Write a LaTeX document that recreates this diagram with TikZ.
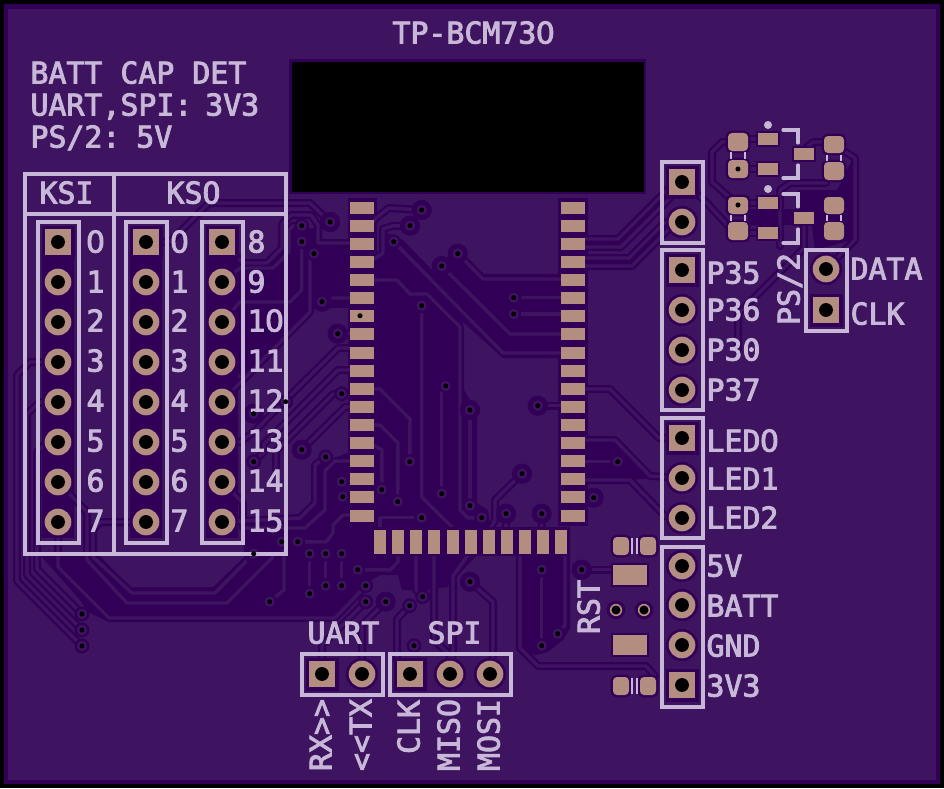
\documentclass[tikz,border=0pt]{standalone}
\usepackage{fontspec}
\newfontfamily\silkf[FakeBold=3]{DejaVu Sans Mono}
\newfontfamily\silkz[FakeBold=3]{DejaVu Sans}
\newcommand\zr{\makebox[13.5pt][c]{\silkz 0}}
\definecolor{pcblight}{HTML}{3E1460}
\definecolor{pcbdark}{HTML}{310056}
\definecolor{padc}{HTML}{B28D80}
\definecolor{silk}{HTML}{C8B8D8}
\tikzset{
 silkline/.style={draw=silk,line width=2.35pt,line cap=round,line join=miter},
 silktext/.style={font=\silkf\fontsize{22.4}{27}\selectfont,text=silk,inner sep=0pt,outer sep=0pt},
 smtpad/.style={fill=padc,preaction={draw=pcbdark,line width=3pt}},
 roundpad/.style={fill=padc,rounded corners=3pt,preaction={draw=pcbdark,line width=3.6pt}},
 tr/.style={}
}
\newcounter{lb}
\newcommand\slab[3]{\stepcounter{lb}\node[silktext,anchor=base west] (t\arabic{lb}) at (#1-0.5,{#2+10.5}) {#3};}
\newcommand\vlab[3]{\stepcounter{lb}\node[silktext,anchor=base east,rotate=90] (t\arabic{lb}) at ({#1+10.5},#2) {#3};}
\newcommand\spad[2]{\fill[pcbdark] ({#1-16.5},{#2-16.5}) rectangle ({#1+16.5},{#2+16.5});\fill[padc] ({#1-13},{#2-13}) rectangle ({#1+13},{#2+13});}
\newcommand\rpad[2]{\fill[pcbdark] (#1,#2) circle[radius=12pt];\fill[padc] (#1,#2) circle[radius=10pt];}
\newcommand\hole[2]{\fill[black] (#1,#2) circle[radius=5.2pt];}
\newcommand\viasmall{301.7/225.7,301.7/241.7,314/253.7,513.7/297.7,513.7/314,421.7/305.7,445.7/386,285.7/401.7,341.7/393.7,253.7/461.7,325.7/457,341.7/481.7,342.7/496.7,381.7/489.7,397.7/501.7,409.7/461.7,421.7/517.7,281.7/541.7,297.7/541.7,309.7/553.7,325.7/553.7,341.7/553.7,357.7/569.7,309.7/593.7,325.7/585.7,341.7/585.7,365.7/585.7,365.7/601.7,269.7/601.7,422.7/596.7,409.7/605.7,470/505.7,481.7/517.7,441.7/493.7,617.7/461.7,541.7/569.7,541.7/645.7,557.7/633.7,414/645.7,82/614,82/630,82/646,393.7/241.7}
\newcommand\viabig{330/222,421.7/210,410/225.7,457.7/253.7,441.7/266,337.7/333.7,322/301.7,537.7/405.7,522/473.7,593.7/497.7,506/513.7,541.7/513.7,470/410,581.7/569.7,385.7/601.7,470/581.7,253.7/413.7,301.7/449.7,253.7/553.7}
\newcommand\tracelist{
 % right side
 \draw[tr] (585,239)--(618,239)--(682,175);
 \draw[tr] (585,247)--(621,247)--(682,186);
 \draw[tr] (585,258)--(629,258)--(665,222)--(682,222);
 \draw[tr] (585,266)--(632,266)--(682,216);
 \draw[tr] (585,389)--(610,389)--(659,438)--(682,438);
 \draw[tr] (585,440)--(615,440)--(650,476)--(682,478);
 \draw[tr] (585,480)--(630,480)--(665,516)--(682,518);
 \draw[tr] (585,461.7)--(617.7,461.7);
 \draw[tr] (585,497.7)--(593.7,497.7);
 % centre
 \draw[tr] (457.7,253.7)--(483,279)--(561,279);
 \draw[tr] (441.7,266)--(510,334)--(561,334);
 \draw[tr] (393.7,241.7)--(503,353)--(561,353);
 \draw[tr] (513.7,297.7)--(561,297.7);
 \draw[tr] (513.7,314)--(561,314);
 \draw[tr] (537.7,405.7)--(561,405.7);
 \draw[tr] (370,280)--(397,280)--(410,294)--(427,294)--(460,327)--(460,510)--(468,518)--(481.7,517.7);
 \draw[tr] (421.7,305.7)--(421.7,497)--(453,528);
 \draw[tr] (441.7,386)--(441.7,493.7);
 \draw[tr] (470,410)--(470,505.7);
 \draw[tr] (370,226)--(376,218)--(389,208)--(421.7,210);
 \draw[tr] (370,262)--(383,253)--(383,229)--(392,226)--(410,225.7);
 \draw[tr] (322,301.7)--(328,298)--(350,298);
 \draw[tr] (337.7,333.7)--(350,333.7);
 % left upper
 \draw[tr] (146,242)--(170,242)--(183,229)--(209,203)--(310,203)--(330,222);
 \draw[tr] (222,242)--(243,263)--(267,263)--(282,248)--(282,224)--(291,215)--(311,215)--(318,225)--(318,243)--(350,243);
 \draw[tr] (301.7,225.7)--(293,226)--(289,230)--(289,252)--(273,268)--(240,268)--(222,282);
 \draw[tr] (301.7,241.7)--(301.7,290)--(290,302)--(240,302)--(222,322);
 \draw[tr] (314,253.7)--(310,258)--(310,312)--(243,380)--(222,401);
 % left pads to the four-lane bus
 \draw[tr] (350,348)--(338,348)--(253.7,432)--(240,442)--(222,442);
 \draw[tr] (350,370)--(338,370)--(264,444)--(264,452)--(253.7,461.7);
 \draw[tr] (341.7,393.7)--(333,394)--(276,451)--(276,470);
 \draw[tr] (350,407)--(345,407)--(301.7,449.7);
 \draw[tr] (325.7,457)--(315,465)--(315,503)--(300,518)--(222,522);
 \draw[tr] (350,461)--(335,461)--(325,471)--(325,510)--(305,528)--(243,528)--(243,503)--(222,482);
 \draw[tr] (341.7,481.7)--(350,481.7);
 \draw[tr] (342.7,496.7)--(350,496.7);
 \draw[tr] (350,515)--(343,515)--(333,525)--(333,533)--(326,542)--(297.7,541.7);
 \draw[tr] (281.7,541.7)--(284,545)--(284,590)--(269.7,601.7);
 \draw[tr] (309.7,553.7)--(309.7,593.7);
 \draw[tr] (325.7,553.7)--(325.7,585.7);
 \draw[tr] (341.7,553.7)--(341.7,585.7);
 \draw[tr] (357.7,569.7)--(390,570)--(398,562)--(398,545);
 \draw[tr] (380,535)--(380,517.7)--(421.7,517.7);
 \draw[tr] (370,425)--(380,425)--(398,443)--(397.7,501.7);
 \draw[tr] (370,443)--(382,450)--(381.7,489.7);
 \draw[tr] (370,389)--(380,389)--(410,419)--(409.7,461.7);
 % bottom left bus
 \draw[tr] (82,646)--(17,581)--(17,375)--(30,362)--(58,362);
 \draw[tr] (82,630)--(27,575)--(27,414)--(40,402)--(58,402);
 \draw[tr] (82,614)--(37,569)--(37,452)--(47,442)--(58,442);
 \draw[tr] (58,522)--(58,567)--(109,618)--(335,618)--(365.7,585.7);
 \draw[tr] (58,482)--(87,512)--(87,560)--(127,603)--(227,603)--(273,557);
 \draw[tr] (146,522)--(100,522)--(93,530)--(93,557)--(132,593)--(215,593)--(253.7,553.7);
 % bottom row
 \draw[tr] (416,545)--(416,590)--(422.7,596.7);
 \draw[tr] (434,545)--(434,640)--(450,655)--(450,674);
 \draw[tr] (475,545)--(453,576)--(453,650)--(450,674);
 \draw[tr] (409.7,605.7)--(397,619)--(397,660)--(410,674);
 \draw[tr] (470,581.7)--(493,602)--(493,655)--(490,674);
 \draw[tr] (520,545)--(520,648)--(538,666)--(646,666)--(655,676);
 \draw[tr] (541.7,569.7)--(541.7,645.7);
 \draw[tr] (557.7,633.7)--(565,625)--(565,545);
 \draw[tr] (581.7,569.7)--(625,569.7);
 \draw[tr] (506,513.7)--(506,535);
 \draw[tr] (541.7,513.7)--(541.7,535);
 \draw[tr] (522,473.7)--(495,500)--(495,520)--(487,535);
 \draw[tr] (322,674)--(322,645)--(365.7,601.7);
 \draw[tr] (362,674)--(362,625)--(385.7,601.7);
 % PS/2 switch area
 \draw[tr] (738,142)--(722,142)--(712,152)--(712,182)--(738,205);
 \draw[tr] (748,139)--(760,139);
 \draw[tr] (748,169)--(760,169);
 \draw[tr] (748,203)--(760,203);
 \draw[tr] (748,233)--(760,233);
 \draw[tr] (682,182)--(704,200)--(732,230);
 \draw[tr] (806,148)--(813,142)--(834,142);
 \draw[tr] (834,145)--(855,158)--(855,240)--(845,250)--(826,269);
 \draw[tr] (804,222)--(804,248)--(738,314)--(738,350);
 \draw[tr] (780,246)--(780,190)--(790,183)--(826,183);
}
\begin{document}
\begin{tikzpicture}[x=0.75pt,y=-0.75pt]
\useasboundingbox (0,0) rectangle (944,788);
\fill[black] (0,0) rectangle (944,788);
\fill[pcbdark] (4,4) rectangle (940,784);
\fill[pcblight] (8,9) rectangle (936,780);
% unfilled copper regions
\fill[pcbdark] (376,262)--(385,250)--(385,232)--(403,240)--(432,270)--(447,258)--(452,246)--(463,253)--(483,274)--(560,274)--(560,358)--(503,358)--(463,322)--(464,390)--(470,400)--(477,405)--(477,503)--(488,510)--(490,527)--(570,527)--(570,556)--(376,556)--cycle;
\fill[pcbdark] (348,198) rectangle (377,526);
\fill[pcbdark] (558,198) rectangle (588,526);
\fill[pcbdark] (585,440)--(615,440)--(652,478)--(630,480)--(585,480)--cycle;
\fill[pcbdark] (40,555)--(80,600)--(88,612)--(105,620)--(330,620)--(372,580)--(395,565)--(395,556)--(376,556)--(376,452)--(350,452)--(316,465)--(316,500)--(300,517)--(240,517)--(245,555)--cycle;
\fill[pcblight] (100,556)--(130,587)--(213,587)--(245,556)--cycle;
\fill[pcbdark] (285,228)--(318,228)--(320,246)--(350,246)--(350,308)--(312,308)--(243,378)--(226,362)--(224,290)--(243,265)--(270,265)--(285,250)--cycle;
\fill[pcbdark] (516,556)--(570,556)--(570,628)--(563,640)--(548,652)--(536,655)--(516,650)--cycle;
\fill[pcbdark] (376,556)--(476,556)--(447,587)--(430,590)--(402,590)--(398,575)--(380,575)--cycle;
\fill[pcbdark] (797,190)--(837,190)--(852,160)--(852,240)--(815,250)--(812,226)--(797,226)--cycle;
\fill[pcbdark] (748,209) rectangle (797,225);
% header columns
\foreach \cx in {58,146,222}{\fill[pcbdark] (\cx-16,226) rectangle (\cx+16,538);}
% traces: clearance pass, then copper pass
\begin{scope}[tr/.style={draw=pcbdark,line width=6pt,line join=round,line cap=round}]
\tracelist
\end{scope}
\begin{scope}[tr/.style={draw=pcblight,line width=2.6pt,line join=round,line cap=round}]
\tracelist
\end{scope}
% vias
\foreach \x/\y in \viasmall {\fill[pcbdark] (\x,\y) circle[radius=5.6pt];\fill[pcblight] (\x,\y) circle[radius=3.8pt];}
\foreach \x/\y in \viabig {\fill[pcbdark] (\x,\y) circle[radius=7.6pt];\fill[pcblight] (\x,\y) circle[radius=3.8pt];}
% module
\fill[pcbdark] (289,59) rectangle (646,194);
\fill[black] (292,62) rectangle (644,192);
\foreach \y in {202,220,238,256,274,292,310,328,347,365,383,401,419,437,455,473,491,510}{
 \fill[padc] (350,\y) rectangle (374,\y+12);
 \fill[padc] (561,\y) rectangle (585,\y+12);}
\foreach \x in {374,392,410,428,447,465,483,501,519,537,555}{
 \fill[pcbdark] (\x-2,527) rectangle (\x+14,556);}
\foreach \x in {374,392,410,428,447,465,483,501,519,537,555}{
 \fill[padc] (\x,530) rectangle (\x+12,554);}
% headers
\spad{58}{242}\spad{146}{242}\spad{222}{242}
\foreach \y in {282,322,362,402,442,482,522}{\rpad{58}{\y}\rpad{146}{\y}\rpad{222}{\y}}
\spad{682}{182}\rpad{682}{222}
\spad{682}{270}\rpad{682}{310}\rpad{682}{350}\rpad{682}{390}
\spad{682}{438}\rpad{682}{478}\rpad{682}{518}
\rpad{682}{566}\rpad{682}{605}\rpad{682}{645}\spad{682}{685}
\rpad{826}{269}\spad{826}{310}
\spad{322}{674}\rpad{362}{674}
\spad{410}{674}\rpad{450}{674}\rpad{490}{674}
% PS/2 level shifters
\foreach \ya/\yb/\yc/\yd in {133/151/160/178,197/214/222/240}{
 \path[roundpad] (728,\ya) rectangle (748,\yb);
 \path[roundpad] (728,\yc) rectangle (748,\yd);}
\foreach \ya/\yb/\yc/\yd in {136/153/162/180,197/214/222/240}{
 \path[roundpad] (824,\ya) rectangle (844,\yb);
 \path[roundpad] (824,\yc) rectangle (844,\yd);}
\path[smtpad] (758,133) rectangle (778,145);
\path[smtpad] (758,163) rectangle (778,175);
\path[smtpad] (794,148) rectangle (814,160);
\path[smtpad] (758,197) rectangle (778,209);
\path[smtpad] (758,227) rectangle (778,239);
\path[smtpad] (794,212) rectangle (814,224);
% reset button and small caps
\path[smtpad] (613,565) rectangle (647,585);
\path[smtpad] (613,635) rectangle (647,655);
\foreach \y in {537,677}{
 \path[roundpad] (613,\y) rectangle (629,\y+18);
 \path[roundpad] (640,\y) rectangle (656,\y+18);}
\foreach \x in {616,644}{\fill[pcbdark] (\x,610) circle[radius=7pt];\fill[padc] (\x,610) circle[radius=4.6pt];}
% silkscreen
\draw[silkline] (25,174) rectangle (286,554);
\draw[silkline] (25,214)--(286,214);
\draw[silkline] (114,174)--(114,554);
\draw[silkline] (38,222) rectangle (79,543);
\draw[silkline] (126,222) rectangle (167,543);
\draw[silkline] (202,222) rectangle (243,543);
\draw[silkline] (662,162) rectangle (703,243);
\draw[silkline] (662,250) rectangle (703,410);
\draw[silkline] (662,418) rectangle (703,538);
\draw[silkline] (662,547) rectangle (703,707);
\draw[silkline] (806,250) rectangle (847,331);
\draw[silkline] (302,654) rectangle (383,695);
\draw[silkline] (390,654) rectangle (511,695);
\draw[silkline] (783,130)--(798,130)--(798,143);
\draw[silkline] (783,178)--(798,178)--(798,165);
\draw[silkline] (783,194)--(798,194)--(798,207);
\draw[silkline] (783,243)--(798,243)--(798,229);
\fill[silk] (768,125) circle[radius=3pt];
\fill[silk] (768,189) circle[radius=3pt];
\foreach \x in {731,745}{
 \draw[silk,line width=1.2pt] (\x,152)--(\x,159);
 \draw[silk,line width=1.2pt] (\x,215)--(\x,221);}
\foreach \x in {827,841}{
 \draw[silk,line width=1.2pt] (\x,155)--(\x,161);
 \draw[silk,line width=1.2pt] (\x,215)--(\x,221);}
\foreach \y in {538,678}{
 \draw[silk,line width=1.2pt] (632,\y)--(632,\y+16);
 \draw[silk,line width=1.2pt] (637,\y)--(637,\y+16);}
% texts
\slab{393}{33}{TP-BCM73\zr}
\slab{31}{73}{BATT CAP DET}
\slab{31}{105}{UART,SPI:\hspace{-3.75pt} 3V3}
\slab{31}{137}{PS/2:\hspace{-6pt} 5V}
\slab{40}{193}{KSI}
\slab{167}{193}{KSO}
\slab{87}{242}{\zr}\slab{87}{282}{1}\slab{87}{321}{2}\slab{87}{361}{3}\slab{87}{401}{4}\slab{87}{441}{5}\slab{87}{481}{6}\slab{87}{521}{7}
\slab{171}{242}{\zr}\slab{171}{282}{1}\slab{171}{321}{2}\slab{171}{361}{3}\slab{171}{401}{4}\slab{171}{441}{5}\slab{171}{481}{6}\slab{171}{521}{7}
\slab{248}{242}{8}\slab{248}{282}{9}\slab{248}{321}{1\zr}\slab{248}{361}{11}\slab{248}{401}{12}\slab{248}{441}{13}\slab{248}{481}{14}\slab{248}{521}{15}
\slab{707}{273}{P35}\slab{707}{310}{P36}\slab{707}{350}{P30}\slab{707}{390}{P37}
\slab{707}{441}{LED\zr}\slab{707}{479}{LED1}\slab{707}{518}{LED2}
\slab{707}{566}{5V}\slab{707}{606}{BATT}\slab{707}{646}{GND}\slab{707}{686}{3V3}
\slab{851}{269}{DATA}\slab{851}{314}{CLK}
\slab{308}{633}{UART}\slab{428}{633}{SPI}
\vlab{789}{253}{PS/2}
\vlab{589}{580}{RST}
\vlab{321}{699}{RX>>}
\vlab{361}{699}{<<TX}
\vlab{409}{700}{CLK}
\vlab{449}{699}{MISO}
\vlab{489}{699}{MOSI}
% drilled holes on top of everything
\foreach \x/\y in \viasmall {\fill[black] (\x,\y) circle[radius=1.9pt];}
\foreach \x/\y in \viabig {\fill[black] (\x,\y) circle[radius=1.9pt];}
\fill[black] (360,315.7) circle[radius=1.9pt];
\fill[black] (738,169) circle[radius=1.9pt];
\fill[black] (738,205) circle[radius=1.9pt];
\foreach \y in {242,282,322,362,402,442,482,522}{\hole{58}{\y}\hole{146}{\y}\hole{222}{\y}}
\foreach \y in {182,222,270,310,350,390,438,478,518,566,605,645,685}{\hole{682}{\y}}
\hole{826}{269}\hole{826}{310}\hole{322}{674}\hole{362}{674}\hole{410}{674}\hole{450}{674}\hole{490}{674}
\foreach \x in {616,644}{\fill[black] (\x,610) circle[radius=3.4pt];}
\end{tikzpicture}
\end{document}
